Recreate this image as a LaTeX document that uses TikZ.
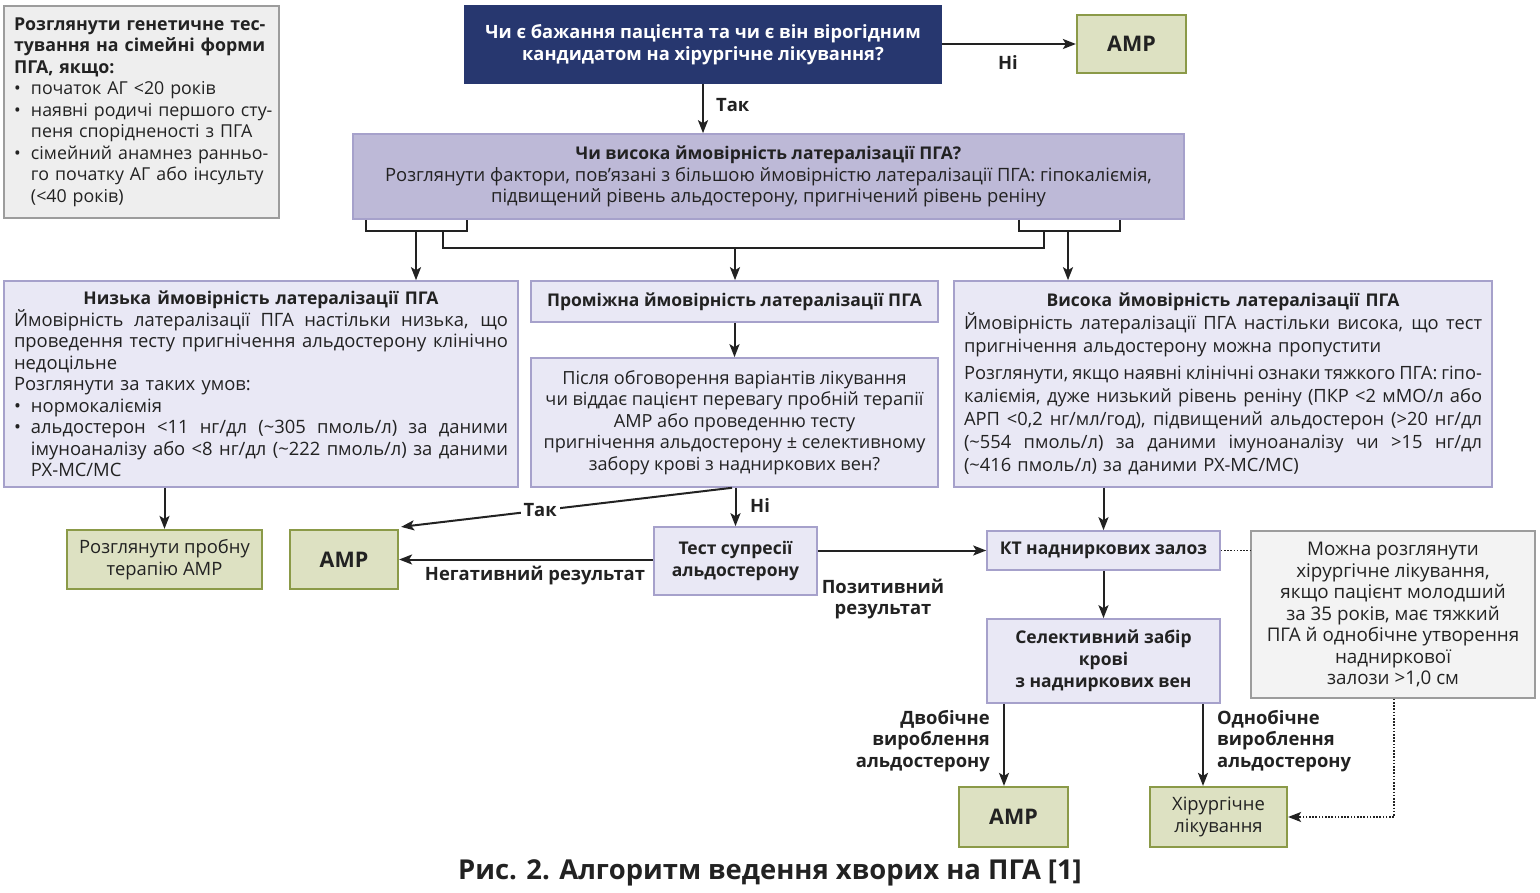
\documentclass[tikz,border=0pt]{standalone}
\usepackage{fontspec}
\setmainfont{Open Sans}
\usetikzlibrary{arrows.meta,calc}
\definecolor{navy}{HTML}{27376F}
\definecolor{lavd}{HTML}{BDB9D7}
\definecolor{lavb}{HTML}{A6A1CB}
\definecolor{lavl}{HTML}{E9E8F5}
\definecolor{olf}{HTML}{DDE1C2}
\definecolor{olb}{HTML}{8B9A48}
\definecolor{gryf}{HTML}{EEEEEE}
\definecolor{gryb}{HTML}{9C9C9C}
\definecolor{notef}{HTML}{F3F3F3}
\definecolor{txt}{HTML}{222222}
\newcommand{\myfs}{\fontsize{18.4}{21.5}\selectfont}
\newcommand{\myfq}{\fontsize{18.1}{21.5}\selectfont}
\newcommand{\myfh}{\fontsize{18.3}{23}\selectfont}
\newcommand{\myfg}{\fontsize{17.8}{21.5}\selectfont}
\newcommand{\myfn}{\fontsize{18.8}{21.5}\selectfont}
\newcommand{\myfb}{\fontsize{17.5}{21.8}\selectfont\bfseries}
\newcommand{\bt}[1]{{\myfb #1}}
\newcommand{\tl}{\textasciitilde}
\newcommand{\jl}[2]{\makebox[#1][s]{\spaceskip=0.26em plus 1fil minus 0.15em\relax #2}}
\tikzset{
  bx/.style={draw, line width=1.6pt, inner sep=0pt, text=txt, font=\myfs, align=center},
  lav/.style={bx, fill=lavl, draw=lavb},
  olv/.style={bx, fill=olf, draw=olb, line width=2.2pt},
  arr/.style={draw=txt, line width=2pt, -{Stealth[length=13pt,width=10pt,inset=3pt]}},
  ln/.style={draw=txt, line width=2pt},
  dott/.style={draw=txt, line width=1.6pt, dash pattern=on 1.6pt off 1.6pt},
  lbl/.style={font=\myfs\bfseries, text=txt, inner sep=1pt},
}
\begin{document}
\begin{tikzpicture}[x=1pt,y=-1pt]
\useasboundingbox (0,0) rectangle (1540,893);
% genetic box
\node[bx, font=\myfg, fill=gryf, draw=gryb, minimum width=275pt, minimum height=212pt, text width=255pt, align=left] (gen) at (141.5,112)
 {\mbox{\textbf{Розглянути генетичне тес-}}\\
  \mbox{\textbf{тування на сімейні форми}}\\
  \mbox{\textbf{ПГА, якщо:}}\\
  \mbox{\makebox[17pt][l]{•}початок АГ <20 років}\\
  \mbox{\makebox[17pt][l]{•}наявні родичі першого сту-}\\
  \mbox{\hspace*{17pt}пеня спорідненості з ПГА}\\
  \mbox{\makebox[17pt][l]{•}сімейний анамнез ранньо-}\\
  \mbox{\hspace*{17pt}го початку АГ або інсульту}\\
  \mbox{\hspace*{17pt}(<40 років)}};
% main question
\node[bx, fill=navy, draw=navy, text=white, font=\fontsize{18.3}{22}\selectfont\bfseries, minimum width=476pt, minimum height=77pt] (main) at (703,44.5)
 {Чи є бажання пацієнта та чи є він вірогідним\\кандидатом на хірургічне лікування?};
\node[olv, font=\fontsize{21.5}{24}\selectfont\bfseries, minimum width=109pt, minimum height=58pt] (amp1) at (1131.5,44) {АМР};
\draw[arr] (main.east |- amp1.west) -- (amp1.west);
\node[lbl] (ni1) at (1008,63) {Ні};
% lateralization question
\node[bx, fill=lavd, draw=lavb, minimum width=831pt, minimum height=85pt] (lat) at (768.5,176.5)
 {\bt{Чи висока ймовірність латералізації ПГА?}\\
  Розглянути фактори, пов’язані з більшою ймовірністю латералізації ПГА: гіпокаліємія,\\
  підвищений рівень альдостерону, пригнічений рівень реніну};
\draw[arr] (main.south) -- (main.south |- lat.north);
\node[lbl, anchor=west] (tak1) at (715,105) {Так};
% three boxes
\node[lav, minimum width=514pt, minimum height=206pt, text width=494pt, align=left] (low) at (261,384)
 {\makebox[494pt][c]{\bt{Низька ймовірність латералізації ПГА}}\\
  \jl{494pt}{Ймовірність латералізації ПГА настільки низька, що}\\
  \jl{494pt}{проведення тесту пригнічення альдостерону клінічно}\\
  недоцільне\\
  Розглянути за таких умов:\\
  \makebox[17pt][l]{•}нормокаліємія\\
  \makebox[17pt][l]{•}\jl{477pt}{альдостерон <11 нг/дл (\tl305 пмоль/л) за даними}\\
  \hspace*{17pt}\jl{477pt}{імуноаналізу або <8 нг/дл (\tl222 пмоль/л) за даними}\\
  \hspace*{17pt}РХ-МС/МС};
\node[lav, minimum width=407pt, minimum height=41pt] (midt) at (734.5,301.5)
 {\bt{Проміжна ймовірність латералізації ПГА}};
\node[lav, font=\myfq, minimum width=407pt, minimum height=129pt] (midq) at (734.5,422.5)
 {Після обговорення варіантів лікування\\
  чи віддає пацієнт перевагу пробній терапії\\
  АМР або проведенню тесту\\
  пригнічення альдостерону ± селективному\\
  забору крові з надниркових вен?};
\node[lav, font=\myfh, minimum width=538pt, minimum height=206pt, text width=518pt, align=left] (high) at (1223,384)
 {\makebox[518pt][c]{\bt{Висока ймовірність латералізації ПГА}}\\
  \jl{518pt}{Ймовірність латералізації ПГА настільки висока, що тест}\\
  пригнічення альдостерону можна пропустити\\[4pt]
  \jl{518pt}{Розглянути, якщо наявні клінічні ознаки тяжкого ПГА: гіпо-}\\
  \jl{518pt}{каліємія, дуже низький рівень реніну (ПКР <2 мМО/л або}\\
  \jl{518pt}{АРП <0,2 нг/мл/год), підвищений альдостерон (>20 нг/дл}\\
  \jl{518pt}{(\tl554 пмоль/л) за даними імуноаналізу чи >15 нг/дл}\\
  (\tl416 пмоль/л) за даними РХ-МС/МС)};
% bracket connectors
\coordinate (bl1) at (366,231);
\coordinate (bl2) at (467,231);
\coordinate (ba1) at (416,231);
\coordinate (rs1) at (443,231);
\coordinate (rs2) at (1044,231);
\coordinate (hz1) at (443,248);
\coordinate (hz2) at (1044,248);
\coordinate (ma) at (735,248);
\coordinate (br1) at (1019,231);
\coordinate (br2) at (1120,231);
\coordinate (ba2) at (1068,231);
\draw[ln] (bl1 |- lat.south) -- (bl1) -- (bl2) -- (bl2 |- lat.south);
\draw[ln] (br1 |- lat.south) -- (br1) -- (br2) -- (br2 |- lat.south);
\draw[ln] (rs1) -- (hz1) -- (hz2) -- (rs2);
\draw[arr] (ba1) -- (ba1 |- low.north);
\draw[arr] (ma) -- (ma |- midt.north);
\draw[arr] (ba2) -- (ba2 |- high.north);
\draw[arr] (midt) -- (midq);
% lower row
\node[olv, minimum width=195pt, minimum height=59pt] (trial) at (164.5,559.5) {Розглянути пробну\\терапію АМР};
\node[olv, font=\fontsize{21.5}{24}\selectfont\bfseries, minimum width=108pt, minimum height=59pt] (amp2) at (344,559.5) {АМР};
\node[lav, font=\myfb, minimum width=163pt, minimum height=68pt] (test) at (735.5,561) {Тест супресії\\альдостерону};
\node[lav, font=\myfb, minimum width=233pt, minimum height=39pt] (ct) at (1103.5,550.5) {КТ надниркових залоз};
\node[bx, font=\myfn, fill=notef, draw=gryb, minimum width=284pt, minimum height=167pt] (note) at (1393,614.5)
 {Можна розглянути\\хірургічне лікування,\\якщо пацієнт молодший\\за 35 років, має тяжкий\\ПГА й однобічне утворення\\надниркової\\залози >1,0 см};
\node[lav, font=\myfb, minimum width=233pt, minimum height=84pt] (sel) at (1103.5,661) {Селективний забір\\крові\\з надниркових вен};
\node[olv, font=\fontsize{21.5}{24}\selectfont\bfseries, minimum width=109pt, minimum height=60pt] (amp3) at (1013.5,817) {АМР};
\node[olv, minimum width=137pt, minimum height=60pt] (surg) at (1218.5,817) {Хірургічне\\лікування};
% lower connectors
\draw[arr] (low.south -| trial.north) -- (trial.north);
\coordinate (tk) at (732,0);
\draw[arr] (midq.south -| tk) -- node[lbl, fill=white, pos=0.58, inner sep=3pt] (tak2) {Так} ($(amp2.north east)+(2,-2)$);
\draw[arr] (midq.south -| test.north) -- (test.north);
\node[lbl, anchor=west] (ni2) at (749,506) {Ні};
\draw[arr] (test.west |- amp2.east) -- (amp2.east);
\node[lbl] (neg) at (535,576) {Негативний результат};
\draw[arr] (test.east |- ct.west) -- (ct.west);
\node[lbl, align=center] (pos) at (883,599) {Позитивний\\результат};
\draw[arr] (ct.north |- high.south) -- (ct.north);
\draw[dott] (ct.east) -- (note.west |- ct.east);
\draw[arr] (ct.south) -- (sel.north);
\coordinate (x3) at (1004,0);
\coordinate (x4) at (1203,0);
\draw[arr] (sel.south -| x3) -- (amp3.north -| x3);
\draw[arr] (sel.south -| x4) -- (surg.north -| x4);
\node[lbl, align=right, anchor=east] (bil) at (991,741) {Двобічне\\вироблення\\альдостерону};
\node[lbl, align=left, anchor=west] (uni) at (1216,741) {Однобічне\\вироблення\\альдостерону};
\coordinate (d1) at (1394,817);
\draw[dott, -{Stealth[length=13pt,width=10pt,inset=3pt]}] (note.south -| d1) -- (d1) -- (surg.east);
% caption
\node[font=\fontsize{27.4}{31}\selectfont\bfseries, text=txt] (cap) at (770,873) {Рис. 2. Алгоритм ведення хворих на ПГА [1]};
\end{tikzpicture}
\end{document}
